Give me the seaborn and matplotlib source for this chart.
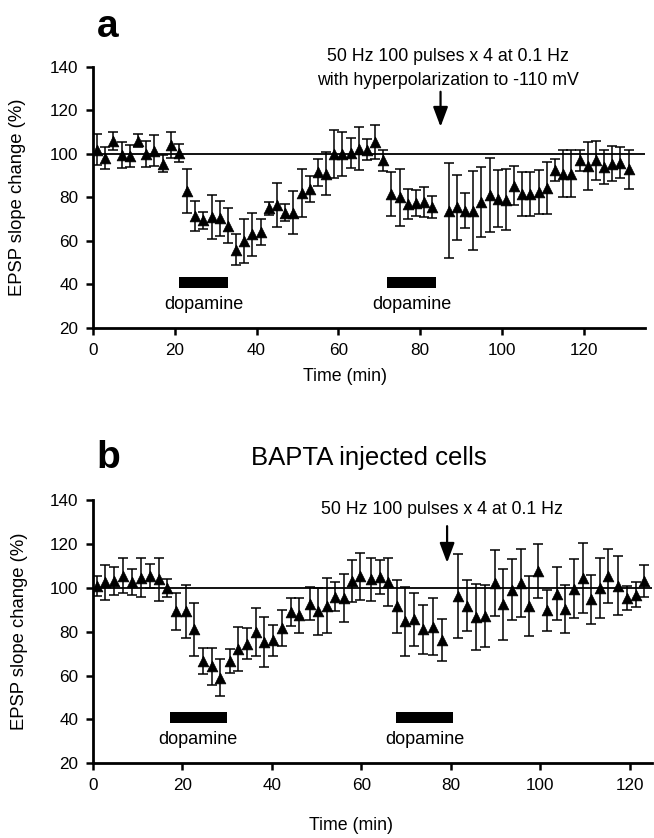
import matplotlib
matplotlib.use("Agg")
import matplotlib.pyplot as plt
import seaborn as sns

# Panel a: time (min), EPSP slope (% of baseline), SEM
time_a = [1, 3, 5, 7, 9, 11, 13, 15, 17, 19, 21, 23, 25, 27, 29, 31, 33, 35, 37, 39,
          41, 43, 45, 47, 49, 51, 53, 55, 57, 59, 61, 63, 65, 67, 69, 71, 73, 75, 77, 79,
          81, 83, 87, 89, 91, 93, 95, 97, 99, 101, 103, 105, 107, 109, 111, 113, 115, 117,
          119, 121, 123, 125, 127, 129, 131]
slope_a = [102, 98, 106, 99.5, 99, 106, 100, 101.5, 95.5, 104, 100.5, 83, 71.5, 69.5, 71,
           70.5, 67, 56, 60, 63, 64, 75, 76.5, 73, 73, 82, 84, 91.5, 91, 100, 100, 100.5,
           102.5, 102, 105.5, 97, 81.5, 80, 77, 77.5, 78, 75.5, 74, 75.5, 74, 74, 78, 81,
           79.5, 79, 85.5, 81.5, 81.5, 82.5, 84.5, 92.5, 91, 91, 97, 94.5, 97, 94, 95.5,
           96, 93]
sem_a = [7, 5, 4, 6, 5, 3, 6, 7, 4, 6, 4, 10, 7, 4, 10, 8, 8, 7, 10, 10, 6, 3, 10, 4, 10,
         11, 6, 6, 10, 11, 10, 7, 10, 5, 8, 5, 10, 13, 7, 6, 7, 5, 22, 15, 8, 18, 16, 17,
         13, 14, 9, 10, 10, 10, 12, 5, 11, 11, 5, 11, 9, 8, 8, 7, 9]
dopamine_a = [(21, 33), (72, 84)]
stim_a = 85

# Panel b: BAPTA injected cells
time_b = [0.9, 2.7, 4.7, 6.8, 8.8, 10.8, 12.8, 14.7, 16.5, 18.5, 20.8, 22.7, 24.7, 26.6,
          28.5, 30.6, 32.4, 34.5, 36.5, 38.3, 40.3, 42.3, 44.2, 46.2, 48.5, 50.4, 52.4,
          54.2, 56.1, 58.0, 59.8, 62.1, 64.1, 66.0, 67.9, 69.9, 71.9, 73.9, 76.1, 78.0,
          81.7, 83.7, 85.6, 87.6, 89.8, 91.8, 93.6, 95.7, 97.5, 99.5, 101.5, 103.7, 105.6,
          107.6, 109.5, 111.3, 113.3, 115.2, 117.5, 119.5, 121.4, 123.3]
slope_b = [100.7, 102.6, 103, 105.6, 102.6, 104.6, 105.3, 103.8, 100, 89.3, 89.3, 81,
           66.6, 64.3, 59.1, 66.6, 72.2, 74.6, 79.8, 75.4, 76.1, 81.8, 88.9, 87.4, 92.8,
           89.3, 91.9, 95.9, 95.4, 103, 105.3, 103.8, 105, 102.6, 91.6, 84.8, 85.6, 81,
           82.2, 76.1, 96.2, 91.9, 86.8, 87.1, 102.3, 92.4, 99.2, 102.3, 91.6, 107.6,
           89.8, 97.4, 90.4, 99.5, 104.6, 94.7, 100, 105.6, 101, 95.4, 96.9, 103]
sem_b = [4.6, 8, 6.5, 8, 6, 9, 5.6, 10, 4, 8.5, 12, 12, 6, 8.4, 8.3, 5.3, 10, 7, 11, 11.4,
         7, 8.3, 6.5, 8, 7.7, 10.7, 12.7, 6.7, 11, 9.6, 10.7, 10, 7.6, 11, 12, 15.7, 12,
         11, 13, 9.5, 19, 11.6, 15, 14, 15, 16, 13.7, 15.6, 13.7, 12.4, 9.4, 12.2, 10.8,
         13.4, 16, 11.3, 13.7, 12.3, 13.4, 5.6, 5.7, 7.2]
dopamine_b = [(17.2, 29.9), (67.7, 80.6)]
stim_b = 79.2

sns.set_theme(style="ticks", rc={"text.color": "black", "axes.labelcolor": "black",
                                 "xtick.color": "black", "ytick.color": "black",
                                 "axes.edgecolor": "black"})
plt.rcParams["font.family"] = ["Liberation Sans", "DejaVu Sans"]

fig = plt.figure(figsize=(6.54, 8.38), dpi=100)
ax_a = fig.add_axes([0.1422, 0.6086, 0.8440, 0.3115])
ax_b = fig.add_axes([0.1419, 0.0891, 0.8550, 0.3142])


def draw_panel(ax, t, y, e, dopa, xmax):
    ax.axhline(100, color="black", lw=1.3, zorder=1)
    ax.errorbar(t, y, yerr=e, fmt="none", ecolor="black", elinewidth=1.1,
                capsize=3.6, capthick=1.1, zorder=2)
    sns.scatterplot(x=t, y=y, marker="^", s=60, color="black", edgecolor="black",
                    linewidth=0.5, zorder=3, ax=ax, legend=False)
    for start, end in dopa:
        ax.fill_between([start, end], 38.5, 43.5, color="black", lw=0, zorder=2)
        ax.text((start + end) / 2, 31, "dopamine", ha="center", va="center",
                fontsize=13)
    ax.set_xlim(0, xmax)
    ax.set_ylim(20, 140)
    ax.set_xticks(range(0, 121, 20))
    ax.set_yticks(range(20, 141, 20))
    ax.tick_params(direction="out", length=5, width=1.8, labelsize=12.3, pad=5.5)
    for side in ["left", "bottom"]:
        ax.spines[side].set_linewidth(2.0)
    sns.despine(ax=ax)
    ax.set_ylabel("EPSP slope change (%)", fontsize=13.3)
    ax.set_xlabel("Time (min)", fontsize=12.8)


draw_panel(ax_a, time_a, slope_a, sem_a, dopamine_a, 135)
ax_a.yaxis.set_label_coords(-0.121, 0.5)
ax_a.xaxis.set_label_coords(0.456, -0.155)
ax_a.text(86.7, 144.6, "50 Hz 100 pulses x 4 at 0.1 Hz", ha="center", va="center",
          fontsize=12.8)
ax_a.text(86.7, 133.6, "with hyperpolarization to -110 mV", ha="center", va="center",
          fontsize=12.8)
ax_a.annotate("", xy=(stim_a, 112.5), xytext=(stim_a, 128.6),
              arrowprops=dict(arrowstyle="-|>,head_length=1.2,head_width=0.45",
                              color="black", lw=1.6, mutation_scale=10,
                              shrinkA=0, shrinkB=0))

draw_panel(ax_b, time_b, slope_b, sem_b, dopamine_b, 125)
ax_b.yaxis.set_label_coords(-0.116, 0.5)
ax_b.xaxis.set_label_coords(0.462, -0.205)
ax_b.text(78.0, 135.7, "50 Hz 100 pulses x 4 at 0.1 Hz", ha="center", va="center",
          fontsize=12.8)
ax_b.annotate("", xy=(stim_b, 111.4), xytext=(stim_b, 128.1),
              arrowprops=dict(arrowstyle="-|>,head_length=1.2,head_width=0.45",
                              color="black", lw=1.6, mutation_scale=10,
                              shrinkA=0, shrinkB=0))

fig.text(0.165, 0.968, "a", fontsize=28, fontweight="bold", ha="center", va="center")
fig.text(0.165, 0.453, "b", fontsize=28, fontweight="bold", ha="center", va="center")
fig.text(0.564, 0.453, "BAPTA injected cells", fontsize=18.5, ha="center", va="center")

fig.savefig("out.png", dpi=100)
